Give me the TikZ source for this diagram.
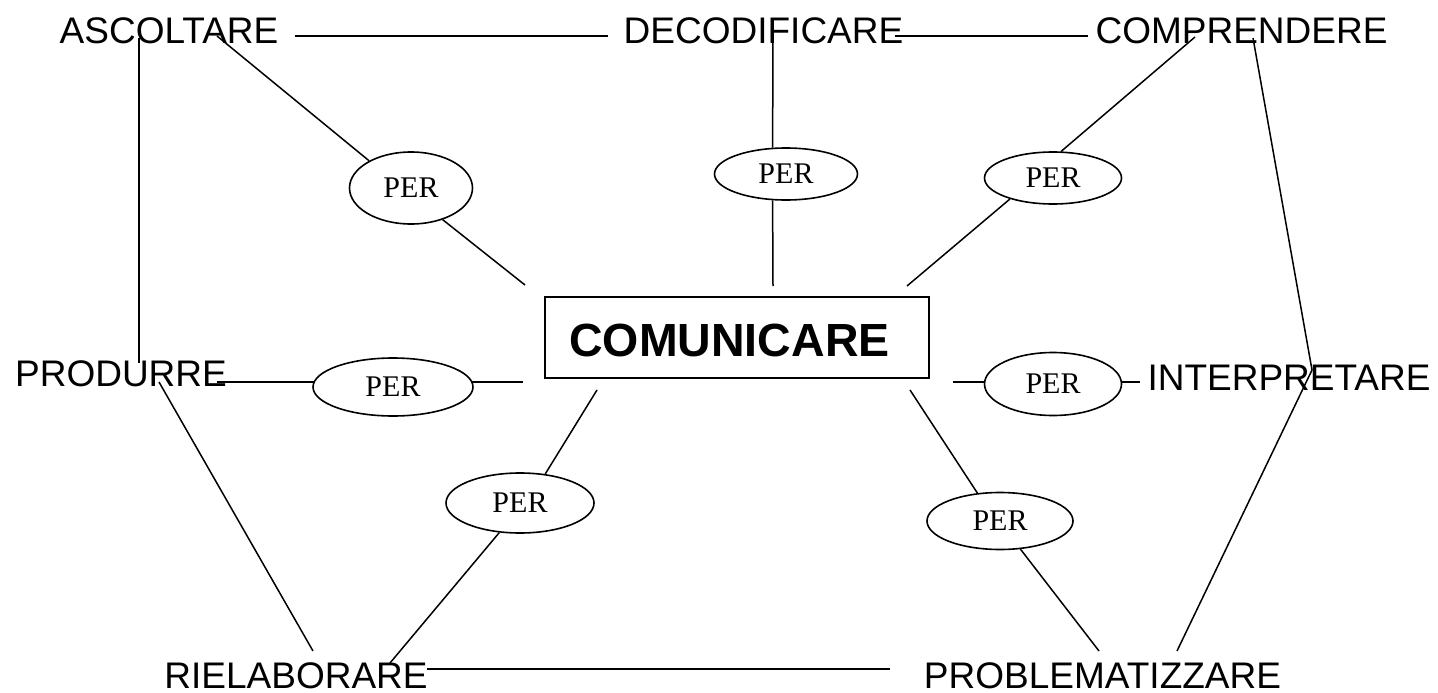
\documentclass[tikz,border=0pt]{standalone}
\usepackage{fontspec}
\setmainfont{Liberation Sans}
\newfontfamily\perfont{Liberation Serif}
\usetikzlibrary{shapes.geometric}
\pgfdeclarelayer{bg}
\pgfsetlayers{bg,main}
\begin{document}
\begin{tikzpicture}[x=1pt,y=-1pt,
  lbl/.style={font=\fontsize{37}{40}\selectfont, anchor=base, inner sep=0pt},
  per/.style={ellipse, draw, fill=white, line width=1.6pt, inner sep=0pt,
              font=\perfont\fontsize{30}{30}\selectfont},
  conn/.style={line width=1.5pt},
  boxst/.style={draw, line width=1.6pt, inner sep=0pt}]
\useasboundingbox (0,0) rectangle (1438,693);

% labels
\node[lbl] (asc) at (169,44) {ASCOLTARE};
\node[lbl] (dec) at (763.5,44) {DECODIFICARE};
\node[lbl] (com) at (1241.5,44) {COMPRENDERE};
\node[lbl] (pro) at (121,386) {PRODURRE};
\node[lbl] (int) at (1289,390) {INTERPRETARE};
\node[lbl] (rie) at (296,688) {RIELABORARE};
\node[lbl] (prb) at (1102.5,688) {PROBLEMATIZZARE};

% central box
\node[boxst, minimum width=384pt, minimum height=81pt] (box) at (737,337.5) {};
\node[font=\bfseries\fontsize{46.5}{50}\selectfont, anchor=base, inner sep=0pt] (comt) at (729.5,356) {COMUNICARE};

% PER ellipses
\node[per, minimum width=123pt, minimum height=72pt] (e1) at (411,188) {PER};
\node[per, minimum width=143pt, minimum height=52pt] (e2) at (786,174) {PER};
\node[per, minimum width=137pt, minimum height=52pt] (e3) at (1053,178) {PER};
\node[per, minimum width=160pt, minimum height=58pt] (e4) at (393,387) {PER};
\node[per, minimum width=137pt, minimum height=63pt] (e5) at (1053,384) {PER};
\node[per, minimum width=148pt, minimum height=60pt] (e6) at (520,503) {PER};
\node[per, minimum width=146pt, minimum height=57pt] (e7) at (1000,521) {PER};

% connector end points
\coordinate (ascR) at (295,36);
\coordinate (decL) at (608,36);
\coordinate (decR) at (895,36);
\coordinate (comL) at (1088,36);
\coordinate (ascV) at (139,38);
\coordinate (proV) at (139,363);
\coordinate (ascD) at (217,36);
\coordinate (bx1) at (525,285);
\coordinate (decV) at (773,40);
\coordinate (bx2) at (773,286);
\coordinate (comD) at (1195,37);
\coordinate (bx3) at (907,286);
\coordinate (comV) at (1253,38);
\coordinate (intJ) at (1312,370);
\coordinate (prbR) at (1177,651);
\coordinate (proR) at (217,382);
\coordinate (bx4) at (523,382);
\coordinate (bx5) at (953,382);
\coordinate (intL) at (1140,382);
\coordinate (proD) at (159,382);
\coordinate (rieT) at (313,651);
\coordinate (bx6) at (597,390);
\coordinate (rieR) at (390,663);
\coordinate (bx7) at (910,390);
\coordinate (prbT) at (1099,651);
\coordinate (rieE) at (427,669);
\coordinate (prbL) at (890,669);

\begin{pgfonlayer}{bg}
\draw[conn] (ascR) -- (decL);
\draw[conn] (decR) -- (comL);
\draw[conn] (ascV) -- (proV);
\draw[conn] (ascD) -- (e1.147);
\draw[conn] (e1.-45) -- (bx1);
\draw[conn] (decV) -- (e2.117);
\draw[conn] (e2.-117) -- (bx2);
\draw[conn] (comD) -- (e3.73);
\draw[conn] (e3.-154) -- (bx3);
\draw[conn] (comV) -- (intJ) -- (prbR);
\draw[conn] (proR) -- (e4.center |- proR);
\draw[conn] (e4.center |- bx4) -- (bx4);
\draw[conn] (bx5) -- (e5.center |- bx5);
\draw[conn] (e5.center |- intL) -- (intL);
\draw[conn] (proD) -- (rieT);
\draw[conn] (bx6) -- (e6.49);
\draw[conn] (e6.-125) -- (rieR);
\draw[conn] (bx7) -- (e7.129);
\draw[conn] (e7.-54) -- (prbT);
\draw[conn] (rieE) -- (prbL);
\end{pgfonlayer}
\end{tikzpicture}
\end{document}
